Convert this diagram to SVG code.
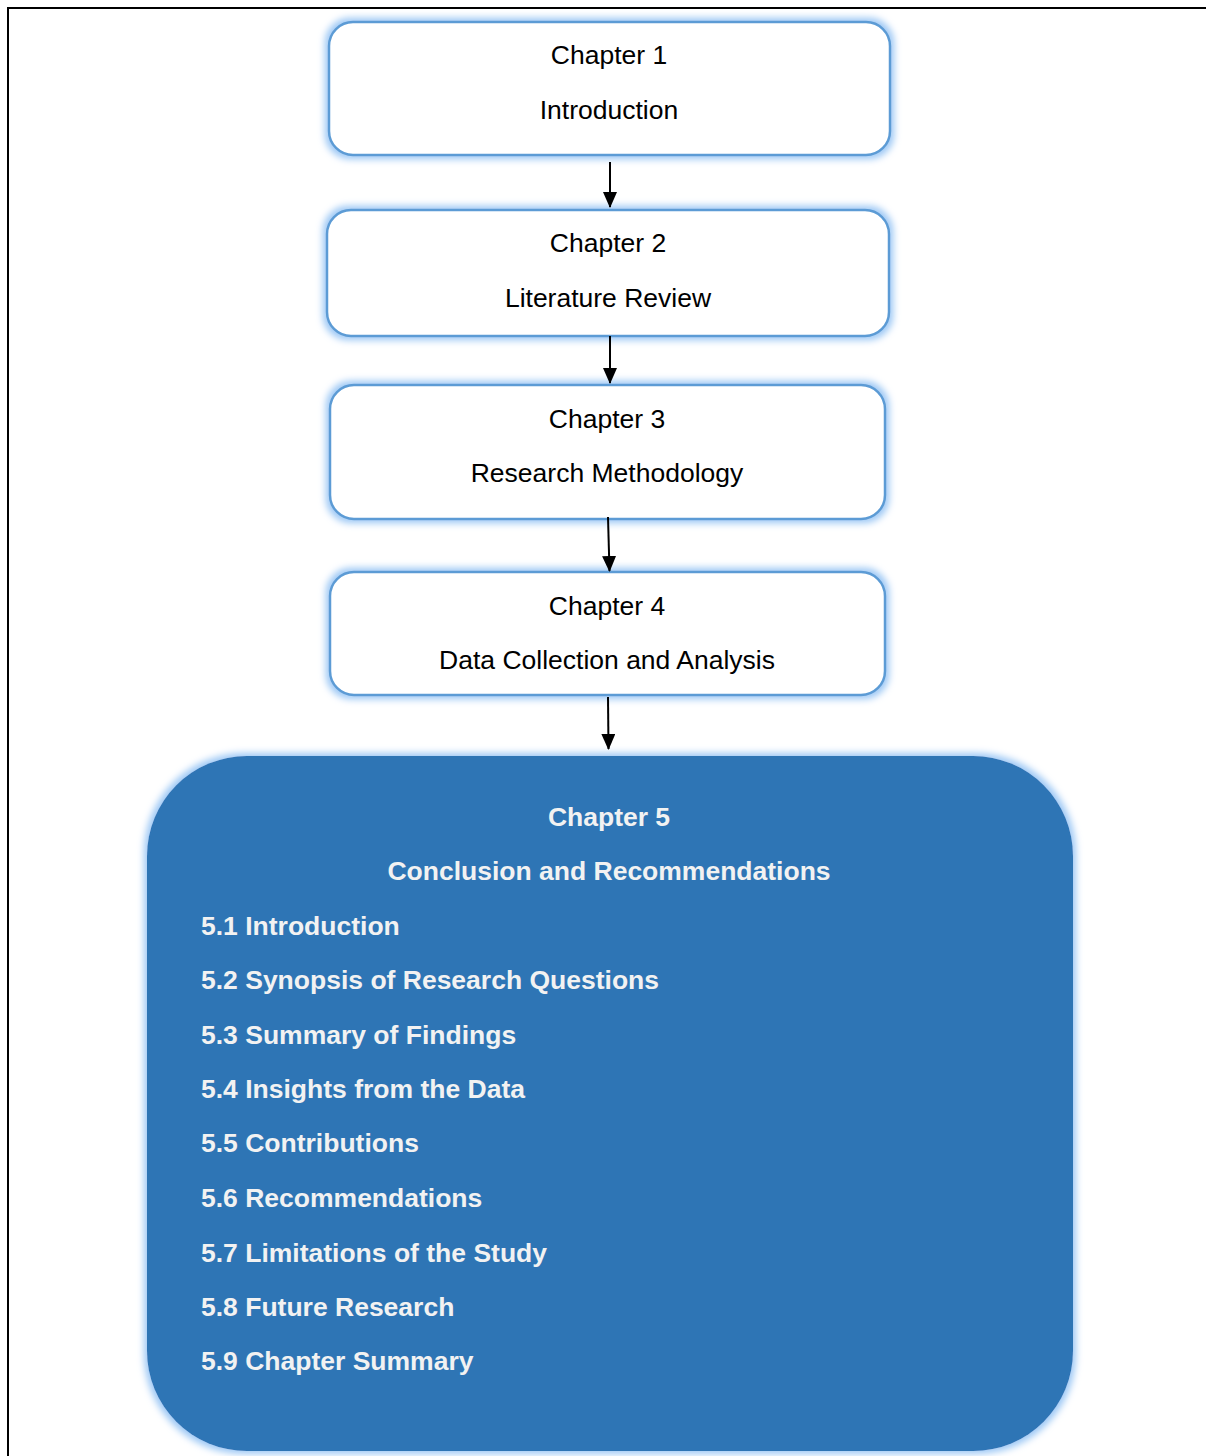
<svg xmlns="http://www.w3.org/2000/svg" width="1206" height="1456" viewBox="0 0 1206 1456">
  <style>
    .box { fill: #ffffff; stroke: #5b9bd5; stroke-width: 2.5; }
    .big { fill: #2e74b5; }
    .t { font-family: "Liberation Sans", Arial, sans-serif; font-size: 26.5px; fill: #000000; text-anchor: middle; }
    .h5 { font-family: "Liberation Sans", Arial, sans-serif; font-size: 26.5px; font-weight: bold; fill: #f2f2f2; text-anchor: middle; }
    .item { font-family: "Liberation Sans", Arial, sans-serif; font-size: 26.5px; font-weight: bold; fill: #f2f2f2; }
    .conn { stroke: #000000; stroke-width: 2; fill: none; }
  </style>
  <defs>
    <filter id="glow" x="-10%" y="-20%" width="120%" height="140%">
      <feMorphology in="SourceAlpha" operator="dilate" radius="3" result="grown"/>
      <feGaussianBlur in="grown" stdDeviation="3.5" result="blur"/>
      <feFlood flood-color="#9dc8f5"/>
      <feComposite in2="blur" operator="in" result="halo"/>
      <feMerge>
        <feMergeNode in="halo"/>
        <feMergeNode in="SourceGraphic"/>
      </feMerge>
    </filter>
    <marker id="arrow" viewBox="0 0 16 14" refX="15" refY="7" markerWidth="16" markerHeight="14" markerUnits="userSpaceOnUse" orient="auto">
      <path d="M0,0 L16,7 L0,14 z" fill="#000000"/>
    </marker>
  </defs>

  <!-- page frame -->
  <rect x="8" y="8" width="1210" height="1460" fill="none" stroke="#000000" stroke-width="2"/>

  <g id="chapter1">
    <rect class="box" x="329" y="22" width="561" height="133" rx="24" filter="url(#glow)"/>
    <text class="t" x="609" y="64">Chapter 1</text>
    <text class="t" x="609" y="119">Introduction</text>
  </g>

  <g id="chapter2">
    <rect class="box" x="327" y="210" width="562" height="126" rx="24" filter="url(#glow)"/>
    <text class="t" x="608" y="252">Chapter 2</text>
    <text class="t" x="608" y="307">Literature Review</text>
  </g>

  <g id="chapter3">
    <rect class="box" x="330" y="385" width="555" height="134" rx="24" filter="url(#glow)"/>
    <text class="t" x="607" y="428">Chapter 3</text>
    <text class="t" x="607" y="482">Research Methodology</text>
  </g>

  <g id="chapter4">
    <rect class="box" x="330" y="572" width="555" height="123" rx="24" filter="url(#glow)"/>
    <text class="t" x="607" y="615">Chapter 4</text>
    <text class="t" x="607" y="669">Data Collection and Analysis</text>
  </g>

  <g id="chapter5">
    <rect class="big" x="147" y="756" width="926" height="695" rx="100" filter="url(#glow)"/>
    <text class="h5" x="609" y="826">Chapter 5</text>
    <text class="h5" x="609" y="880">Conclusion and Recommendations</text>
    <text class="item" x="201" y="935">5.1 Introduction</text>
    <text class="item" x="201" y="989">5.2 Synopsis of Research Questions</text>
    <text class="item" x="201" y="1044">5.3 Summary of Findings</text>
    <text class="item" x="201" y="1098">5.4 Insights from the Data</text>
    <text class="item" x="201" y="1152">5.5 Contributions</text>
    <text class="item" x="201" y="1207">5.6 Recommendations</text>
    <text class="item" x="201" y="1262">5.7 Limitations of the Study</text>
    <text class="item" x="201" y="1316">5.8 Future Research</text>
    <text class="item" x="201" y="1370">5.9 Chapter Summary</text>
  </g>

  <g id="connectors">
    <line class="conn" x1="610" y1="162" x2="610" y2="207" marker-end="url(#arrow)"/>
    <line class="conn" x1="610" y1="336" x2="610" y2="383" marker-end="url(#arrow)"/>
    <line class="conn" x1="608" y1="517" x2="609.5" y2="571" marker-end="url(#arrow)"/>
    <line class="conn" x1="608" y1="697" x2="608.5" y2="749" marker-end="url(#arrow)"/>
  </g>
</svg>
